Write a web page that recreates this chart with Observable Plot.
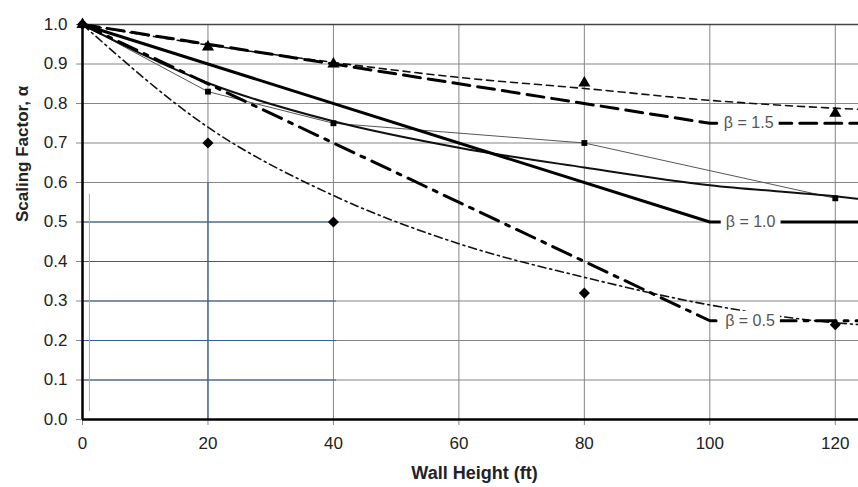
<!DOCTYPE html>
<html>
<head>
<meta charset="utf-8">
<script src="https://cdn.jsdelivr.net/npm/d3@7"></script>
<script src="https://cdn.jsdelivr.net/npm/@observablehq/plot@0.6"></script>
<style>
  html, body { margin: 0; padding: 0; background: #fff; }
</style>
</head>
<body>
<div id="chart"></div>
<script>
// ---- tick labels ----
const xTicks = [0, 20, 40, 60, 80, 100, 120];
const yTicks = [0, 0.1, 0.2, 0.3, 0.4, 0.5, 0.6, 0.7, 0.8, 0.9, 1.0];

// ---- beta design lines (thick) ----
const betaX  = [0, 100, 124];
const beta15 = [1.0, 0.75, 0.75];
const beta10 = [1.0, 0.50, 0.50];
const beta05 = [1.0, 0.25, 0.25];

// ---- fitted curves (thin) ----
const curveX       = [0, 20, 40, 60, 80, 100, 120, 124];
const thinDashed   = [1.0, 0.948, 0.904, 0.866, 0.838, 0.808, 0.788, 0.785];
const mediumCurve  = [1.0, 0.852, 0.755, 0.688, 0.638, 0.593, 0.565, 0.558];
const dashDotCurve = [1.0, 0.740, 0.567, 0.445, 0.360, 0.290, 0.245, 0.240];

// ---- data points ----
const markerX   = [0, 20, 40, 80, 120];
const triangles = [1.0, 0.943, 0.900, 0.852, 0.775];
const squares   = [1.0, 0.830, 0.750, 0.700, 0.560];
const diamonds  = [1.0, 0.700, 0.500, 0.320, 0.240];

// ---- line labels ----
const betaLabels = ["β = 1.5", "β = 1.0", "β = 0.5"];
const betaLabelX = [106.2, 106.5, 106.4];
const betaLabelY = [0.75, 0.50, 0.25];

// ---- stray blue rules (scan artefact) ----
const blueH  = [0.1, 0.2, 0.3, 0.4, 0.5];
const blueHx = [0, 40.5];
const blueVx = [20];
const blueVy = [0, 0.6];
const greyVx = [1.1];
const greyVy = [0.02, 0.57];

const font = "'Liberation Sans', Arial, Helvetica, sans-serif";

const chart = Plot.plot({
  width: 858,
  height: 487,
  marginLeft: 82,
  marginRight: 0,
  marginTop: 24,
  marginBottom: 68,
  x: { domain: [0, 123.7] },
  y: { domain: [0, 1] },
  style: { fontFamily: font, fontSize: "17px", color: "#222", background: "#fff" },
  marks: [
    Plot.gridX(xTicks, { stroke: "#858585", strokeOpacity: 1, strokeWidth: 1 }),
    Plot.gridY(yTicks, { stroke: "#858585", strokeOpacity: 1, strokeWidth: 1 }),
    // scan artefacts
    Plot.ruleY(blueH, { x1: () => blueHx[0], x2: () => blueHx[1], stroke: "#35608f", strokeWidth: 1.2 }),
    Plot.ruleX(blueVx, { y1: () => blueVy[0], y2: () => blueVy[1], stroke: "#35608f", strokeWidth: 1.2 }),
    Plot.ruleX(greyVx, { y1: () => greyVy[0], y2: () => greyVy[1], stroke: "#aaa", strokeWidth: 1 }),
    // frame
    Plot.ruleY([1], { stroke: "#444", strokeWidth: 1.6 }),
    Plot.axisX({ ticks: xTicks, tickSize: 6, tickPadding: 11, label: null, stroke: "#888", fill: "#222" }),
    Plot.axisY({ ticks: yTicks, tickFormat: d3.format(".1f"), tickSize: 6, tickPadding: 9, label: null, stroke: "#888", fill: "#222" }),
    // thin lines
    Plot.lineY(squares, { x: markerX, stroke: "#555", strokeWidth: 1 }),
    Plot.lineY(thinDashed, { x: curveX, curve: "monotone-x", stroke: "#111", strokeWidth: 1.6, strokeDasharray: "7,5" }),
    Plot.lineY(mediumCurve, { x: curveX, curve: "monotone-x", stroke: "#111", strokeWidth: 2 }),
    Plot.lineY(dashDotCurve, { x: curveX, curve: "monotone-x", stroke: "#111", strokeWidth: 1.6, strokeDasharray: "8,4,2,4" }),
    // beta lines
    Plot.lineY(beta15, { x: betaX, stroke: "#000", strokeWidth: 3, strokeDasharray: "17,8" }),
    Plot.lineY(beta10, { x: betaX, stroke: "#000", strokeWidth: 3 }),
    Plot.lineY(beta05, { x: betaX, stroke: "#000", strokeWidth: 3, strokeDasharray: "20,8,4,8" }),
    // labels
    Plot.text(betaLabels, {
      x: betaLabelX, y: betaLabelY, text: d => d,
      fill: "#555", fontSize: 16, className: "beta-label"
    }),
    // axes lines
    Plot.ruleX([0], { stroke: "#000", strokeWidth: 2.5 }),
    Plot.ruleY([0], { stroke: "#000", strokeWidth: 2.5 }),
    // markers
    Plot.dot(triangles, { x: markerX, y: d => d, symbol: "triangle", fill: "#000", r: 4.5 }),
    Plot.dot(squares, { x: markerX, y: d => d, symbol: "square", fill: "#000", r: 3.3 }),
    Plot.dot(diamonds, { x: markerX, y: d => d, symbol: "diamond2", fill: "#000", r: 5 }),
    // axis titles
    Plot.text(["Scaling Factor, α"], {
      text: d => d, frameAnchor: "left", dx: -60, rotate: -90,
      fontWeight: "bold", fontSize: 17, fill: "#222"
    }),
    Plot.text(["Wall Height (ft)"], {
      text: d => d, frameAnchor: "bottom", dx: 4, dy: 59,
      fontWeight: "bold", fontSize: 18, fill: "#222"
    })
  ]
});
document.getElementById("chart").appendChild(chart);

// white boxes behind the β labels so the lines break around them
d3.select(chart).selectAll("text").filter(function () {
  return (this.textContent || "").startsWith("β");
}).each(function () {
  const b = this.getBBox();
  const t = this.getAttribute("transform");
  const r = document.createElementNS("http://www.w3.org/2000/svg", "rect");
  r.setAttribute("x", b.x - 5);
  r.setAttribute("y", b.y - 1);
  r.setAttribute("width", b.width + 10);
  r.setAttribute("height", b.height + 2);
  r.setAttribute("fill", "#fff");
  if (t) r.setAttribute("transform", t);
  this.parentNode.insertBefore(r, this);
});
</script>
</body>
</html>
